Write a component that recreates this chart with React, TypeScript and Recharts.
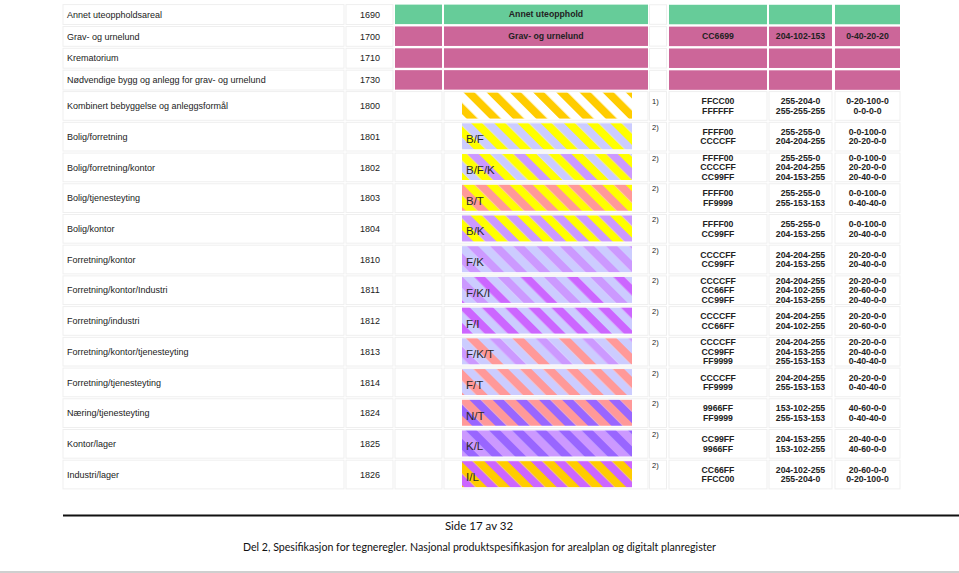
import { BarChart, Bar, XAxis, YAxis, LabelList } from "recharts"

// upper block: single-colour purposes
const topNames = ["Annet uteoppholdsareal", "Grav- og urnelund", "Krematorium", "Nødvendige bygg og anlegg for grav- og urnelund"]
const topCodes = ["1690", "1700", "1710", "1730"]
const topColors = ["#66CC99", "#CC6699", "#CC6699", "#CC6699"]
const topLabels = ["Annet uteopphold", "Grav- og urnelund", "", ""]
const topHex = ["", "CC6699", "", ""]
const topRgb = ["", "204-102-153", "", ""]
const topCmyk = ["", "0-40-20-20", "", ""]

// lower block: combined purposes, striped
const mixNames = [
  "Kombinert bebyggelse og anleggsformål",
  "Bolig/forretning",
  "Bolig/forretning/kontor",
  "Bolig/tjenesteyting",
  "Bolig/kontor",
  "Forretning/kontor",
  "Forretning/kontor/Industri",
  "Forretning/industri",
  "Forretning/kontor/tjenesteyting",
  "Forretning/tjenesteyting",
  "Næring/tjenesteyting",
  "Kontor/lager",
  "Industri/lager",
]
const mixCodes = ["1800", "1801", "1802", "1803", "1804", "1810", "1811", "1812", "1813", "1814", "1824", "1825", "1826"]
const mixAbbr = ["", "B/F", "B/F/K", "B/T", "B/K", "F/K", "F/K/I", "F/I", "F/K/T", "F/T", "N/T", "K/L", "I/L"]
const mixNotes = ["1)", "2)", "2)", "2)", "2)", "2)", "2)", "2)", "2)", "2)", "2)", "2)", "2)"]
const mixHex = [
  ["FFCC00", "FFFFFF"],
  ["FFFF00", "CCCCFF"],
  ["FFFF00", "CCCCFF", "CC99FF"],
  ["FFFF00", "FF9999"],
  ["FFFF00", "CC99FF"],
  ["CCCCFF", "CC99FF"],
  ["CCCCFF", "CC66FF", "CC99FF"],
  ["CCCCFF", "CC66FF"],
  ["CCCCFF", "CC99FF", "FF9999"],
  ["CCCCFF", "FF9999"],
  ["9966FF", "FF9999"],
  ["CC99FF", "9966FF"],
  ["CC66FF", "FFCC00"],
]
const mixRgb = [
  ["255-204-0", "255-255-255"],
  ["255-255-0", "204-204-255"],
  ["255-255-0", "204-204-255", "204-153-255"],
  ["255-255-0", "255-153-153"],
  ["255-255-0", "204-153-255"],
  ["204-204-255", "204-153-255"],
  ["204-204-255", "204-102-255", "204-153-255"],
  ["204-204-255", "204-102-255"],
  ["204-204-255", "204-153-255", "255-153-153"],
  ["204-204-255", "255-153-153"],
  ["153-102-255", "255-153-153"],
  ["204-153-255", "153-102-255"],
  ["204-102-255", "255-204-0"],
]
const mixCmyk = [
  ["0-20-100-0", "0-0-0-0"],
  ["0-0-100-0", "20-20-0-0"],
  ["0-0-100-0", "20-20-0-0", "20-40-0-0"],
  ["0-0-100-0", "0-40-40-0"],
  ["0-0-100-0", "20-40-0-0"],
  ["20-20-0-0", "20-40-0-0"],
  ["20-20-0-0", "20-60-0-0", "20-40-0-0"],
  ["20-20-0-0", "20-60-0-0"],
  ["20-20-0-0", "20-40-0-0", "0-40-40-0"],
  ["20-20-0-0", "0-40-40-0"],
  ["40-60-0-0", "0-40-40-0"],
  ["20-40-0-0", "40-60-0-0"],
  ["20-60-0-0", "0-20-100-0"],
]

const topData = topCodes.map((code, i) => ({ code, name: topNames[i], label: topLabels[i], share: 1 }))
const mixData = mixCodes.map((code, i) => ({ code, name: mixNames[i], abbr: mixAbbr[i], share: 1 }))

const FONT = "'Liberation Sans', Arial, sans-serif"
const BORDER = "#efefef"
const TOP_ROW = 21.85
const MIX_ROW = 30.7
const LINE_H = 9.4

const cellText = (x: number, y: number, lines: string[]) => {
  const y0 = y - ((lines.length - 1) * LINE_H) / 2
  return lines.map((t, k) => (
    <text key={k} x={x} y={y0 + k * LINE_H} dy="0.35em" textAnchor="middle" fontSize={8.7} fontWeight="bold" fill="#222" fontFamily={FONT}>
      {t}
    </text>
  ))
}

const TopLeftTick = (props: any) => {
  const { y, payload } = props
  const i = topCodes.indexOf(String(payload.value))
  const h = TOP_ROW - 2
  return (
    <g>
      <rect x={63} y={y - h / 2} width={281} height={h} fill="none" stroke={BORDER} />
      <rect x={346} y={y - h / 2} width={47} height={h} fill="none" stroke={BORDER} />
      <text x={67} y={y} dy="0.35em" fontSize={9} fill="#222" fontFamily={FONT}>{topNames[i]}</text>
      <text x={370} y={y} dy="0.35em" fontSize={9} textAnchor="middle" fill="#222" fontFamily={FONT}>{topCodes[i]}</text>
    </g>
  )
}

const TopRightTick = (props: any) => {
  const { y, payload } = props
  const i = topCodes.indexOf(String(payload.value))
  const h = 19.5
  const fill = topColors[i]
  return (
    <g>
      <rect x={649.5} y={y - h / 2} width={17} height={h} fill="none" stroke={BORDER} />
      <rect x={669} y={y - h / 2} width={98} height={h} fill={fill} />
      <rect x={769} y={y - h / 2} width={63} height={h} fill={fill} />
      <rect x={835} y={y - h / 2} width={65} height={h} fill={fill} />
      {topHex[i] && cellText(718, y, [topHex[i]])}
      {topRgb[i] && cellText(800.5, y, [topRgb[i]])}
      {topCmyk[i] && cellText(867.5, y, [topCmyk[i]])}
    </g>
  )
}

const TopBand = (props: any) => {
  const { x, y, width, height, index } = props
  const fill = topColors[index]
  return (
    <g>
      <rect x={x} y={y} width={47} height={height} fill={fill} />
      <rect x={x + 49} y={y} width={width - 49} height={height} fill={fill} />
    </g>
  )
}

const MixLeftTick = (props: any) => {
  const { y, payload } = props
  const i = mixCodes.indexOf(String(payload.value))
  const h = MIX_ROW - 2
  return (
    <g>
      <rect x={63} y={y - h / 2} width={281} height={h} fill="none" stroke={BORDER} />
      <rect x={346} y={y - h / 2} width={47} height={h} fill="none" stroke={BORDER} />
      <rect x={395} y={y - h / 2} width={47} height={h} fill="none" stroke={BORDER} />
      <rect x={444} y={y - h / 2} width={204} height={h} fill="none" stroke={BORDER} />
      <text x={67} y={y} dy="0.35em" fontSize={9} fill="#222" fontFamily={FONT}>{mixNames[i]}</text>
      <text x={370} y={y} dy="0.35em" fontSize={9} textAnchor="middle" fill="#222" fontFamily={FONT}>{mixCodes[i]}</text>
    </g>
  )
}

const MixRightTick = (props: any) => {
  const { y, payload } = props
  const i = mixCodes.indexOf(String(payload.value))
  const h = MIX_ROW - 2
  const noteY = mixNotes[i] === "1)" ? y - 5 : y - 9.5
  return (
    <g>
      <rect x={649.5} y={y - h / 2} width={17} height={h} fill="none" stroke={BORDER} />
      <rect x={669} y={y - h / 2} width={98} height={h} fill="none" stroke={BORDER} />
      <rect x={769} y={y - h / 2} width={63} height={h} fill="none" stroke={BORDER} />
      <rect x={835} y={y - h / 2} width={65} height={h} fill="none" stroke={BORDER} />
      <text x={652} y={noteY} dy="0.35em" fontSize={7.5} fill="#222" fontFamily={FONT}>{mixNotes[i]}</text>
      {cellText(718, y, mixHex[i])}
      {cellText(800.5, y, mixRgb[i])}
      {cellText(867.5, y, mixCmyk[i])}
    </g>
  )
}

const STRIPE = 8.2

const StripedBar = (props: any) => {
  const { x, y, width, height, index } = props
  const cols = mixHex[index].map((h) => "#" + h)
  const seq = cols.length === 3 ? [cols[0], cols[1], cols[0], cols[2]] : cols
  const id = "stripe-" + mixCodes[index]
  return (
    <g>
      <defs>
        <pattern id={id} patternUnits="userSpaceOnUse" width={STRIPE * seq.length} height={20} patternTransform="rotate(-45)">
          {seq.map((c, k) => (
            <rect key={k} x={k * STRIPE} y={0} width={STRIPE} height={20} fill={c} />
          ))}
        </pattern>
      </defs>
      <rect x={x} y={y} width={width} height={height} fill={`url(#${id})`} />
    </g>
  )
}

export default function App() {
  return (
    <div style={{ position: "absolute", left: 0, top: 0, width: 959, height: 573, background: "#fff", overflow: "hidden" }}>
      <div style={{ position: "absolute", left: 0, top: 0 }}>
        <BarChart width={959} height={92} data={topData} layout="vertical" margin={{ top: 3.6, right: 59, bottom: 1, left: 63 }}>
          <XAxis type="number" domain={[0, 1]} hide />
          <YAxis yAxisId="left" type="category" dataKey="code" width={332} axisLine={false} tickLine={false} interval={0} tick={(p: any) => <TopLeftTick {...p} />} />
          <YAxis yAxisId="right" orientation="right" type="category" dataKey="code" width={252} axisLine={false} tickLine={false} interval={0} tick={(p: any) => <TopRightTick {...p} />} />
          <Bar yAxisId="left" dataKey="share" barSize={19.5} shape={(p: any) => <TopBand {...p} />} isAnimationActive={false}>
            <LabelList
              dataKey="label"
              content={(p: any) => (
                <text x={p.x + 49 + (p.width - 49) / 2} y={p.y + p.height / 2} dy="0.35em" textAnchor="middle" fontSize={8.7} fontWeight="bold" fill="#222" fontFamily={FONT}>
                  {p.value}
                </text>
              )}
            />
          </Bar>
        </BarChart>
      </div>
      <div style={{ position: "absolute", left: 0, top: 0 }}>
        <BarChart width={959} height={500} data={mixData} layout="vertical" margin={{ top: 90.6, right: 59, bottom: 10.1, left: 63 }}>
          <XAxis type="number" domain={[0, 1]} hide />
          <YAxis yAxisId="left" type="category" dataKey="code" width={399} axisLine={false} tickLine={false} interval={0} tick={(p: any) => <MixLeftTick {...p} />} />
          <YAxis yAxisId="right" orientation="right" type="category" dataKey="code" width={268} axisLine={false} tickLine={false} interval={0} tick={(p: any) => <MixRightTick {...p} />} />
          <Bar yAxisId="left" dataKey="share" barSize={26} shape={(p: any) => <StripedBar {...p} />} isAnimationActive={false}>
            <LabelList
              dataKey="abbr"
              content={(p: any) => (
                <text x={p.x + 4} y={p.y + p.height - 6} fontSize={11.5} fill="#2a2a2a" fontFamily={FONT}>
                  {p.value}
                </text>
              )}
            />
          </Bar>
        </BarChart>
      </div>
      <svg width={959} height={573} style={{ position: "absolute", left: 0, top: 0, pointerEvents: "none" }}>
        <rect x={63} y={514.5} width={896} height={2} fill="#111" />
        <text x={479} y={530} textAnchor="middle" fontSize={11.5} fill="#111" fontFamily="Lato, 'Open Sans', sans-serif">Side 17 av 32</text>
        <text x={243} y={551} fontSize={11.5} fill="#111" fontFamily="Lato, 'Open Sans', sans-serif" textLength={473} lengthAdjust="spacingAndGlyphs">
          Del 2, Spesifikasjon for tegneregler. Nasjonal produktspesifikasjon for arealplan og digitalt planregister
        </text>
        <rect x={0} y={571} width={959} height={2} fill="#cfcfcf" />
      </svg>
    </div>
  )
}
